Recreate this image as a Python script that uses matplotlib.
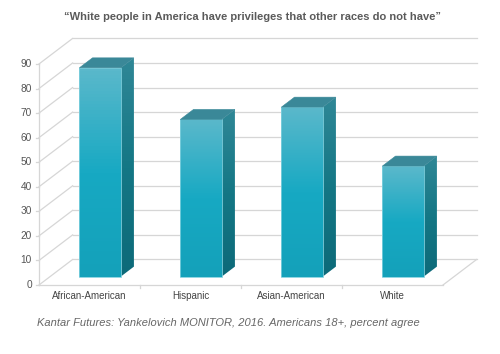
import numpy as np
import matplotlib
matplotlib.use("Agg")
import matplotlib.pyplot as plt
from matplotlib.patches import Polygon

# data
categories = ["African-American", "Hispanic", "Asian-American", "White"]
values = [85, 64, 69, 45]
y_ticks = list(range(0, 100, 10))
title = "\u201cWhite people in America have privileges that other races do not have\u201d"
source = "Kantar Futures: Yankelovich MONITOR, 2016. Americans 18+, percent agree"

# oblique "3D" projection in data units
DX, DY = 0.333, 10.4          # full floor depth, in category / value units
BAR_OFF, BAR_W = 0.29, 0.41   # bar position inside its slot
F0, F1 = 0.33, 0.72           # bar front / back depth fraction
GRID = "#d6d6d6"


def proj(x, y, f):
    return (x + f * DX, y + f * DY)


fig = plt.figure(figsize=(5.0, 3.54), dpi=100)
ax = fig.add_axes([0, 0, 1, 1])
ax.axis("off")

n = len(categories)
ymax = y_ticks[-1]

# walls and floor
for v in y_ticks:
    ax.plot([0, DX], [v, v + DY], color=GRID, lw=0.9, zorder=1)
    ax.plot([DX, n + DX], [v + DY, v + DY], color=GRID, lw=0.9, zorder=1)
    ax.plot([-0.03, 0], [v, v], color=GRID, lw=0.9, zorder=1)
    ax.text(-0.07, v, str(v), ha="right", va="center", fontsize=7.3,
            color="#555555", family="Liberation Sans")
ax.plot([0, 0], [0, ymax], color=GRID, lw=0.9, zorder=1)
ax.plot([0, n], [0, 0], color=GRID, lw=0.9, zorder=1)
ax.plot([n, n + DX], [0, DY], color=GRID, lw=0.9, zorder=1)
for k in range(1, n):
    ax.plot([k, k], [0, -1.2], color=GRID, lw=0.9, zorder=1)

# gradients
grad = np.linspace(0, 1, 64).reshape(-1, 1)
front_cmap = matplotlib.colors.LinearSegmentedColormap.from_list(
    "front", ["#14a1ba", "#17a9c3", "#5ab8cb"])
side_cmap = matplotlib.colors.LinearSegmentedColormap.from_list(
    "side", ["#0d6a79", "#147785", "#2f8796"])

for i, (cat, v) in enumerate(zip(categories, values)):
    x0 = i + BAR_OFF
    x1 = x0 + BAR_W
    front = [proj(x0, 0, F0), proj(x1, 0, F0), proj(x1, v, F0), proj(x0, v, F0)]
    side = [proj(x1, 0, F0), proj(x1, 0, F1), proj(x1, v, F1), proj(x1, v, F0)]
    top = [proj(x0, v, F0), proj(x1, v, F0), proj(x1, v, F1), proj(x0, v, F1)]

    for pts, cmap, z in ((front, front_cmap, 3), (side, side_cmap, 2)):
        poly = Polygon(pts, closed=True, facecolor="none", edgecolor="none", zorder=z)
        ax.add_patch(poly)
        xs = [p[0] for p in pts]
        ys = [p[1] for p in pts]
        im = ax.imshow(grad, cmap=cmap, origin="lower", aspect="auto",
                       extent=[min(xs), max(xs), min(ys), max(ys)], zorder=z)
        im.set_clip_path(poly)
    ax.add_patch(Polygon(front, closed=True, facecolor="none",
                         edgecolor="#7fd0de", lw=0.6, zorder=4))
    ax.add_patch(Polygon(top, closed=True, facecolor="#3a8898",
                         edgecolor="#3a8898", lw=0.4, zorder=4))

    ax.text(i + 0.5, -4.5, cat, ha="center", va="center", fontsize=7,
            color="#444444", family="Liberation Sans")

ax.set_xlim(-39 / 101, 461 / 101)
ax.set_ylim(-69 / 2.456, 285 / 2.456)

fig.text(0.505, 1 - 17 / 354, title, ha="center", va="center", fontsize=8,
         fontweight="bold", color="#5a5a5a", family="Liberation Sans")
fig.text(37 / 500, 1 - 323 / 354, source, ha="left", va="center", fontsize=8,
         style="italic", color="#666666", family="Liberation Sans")

fig.savefig("out.png", dpi=100, facecolor="white")
